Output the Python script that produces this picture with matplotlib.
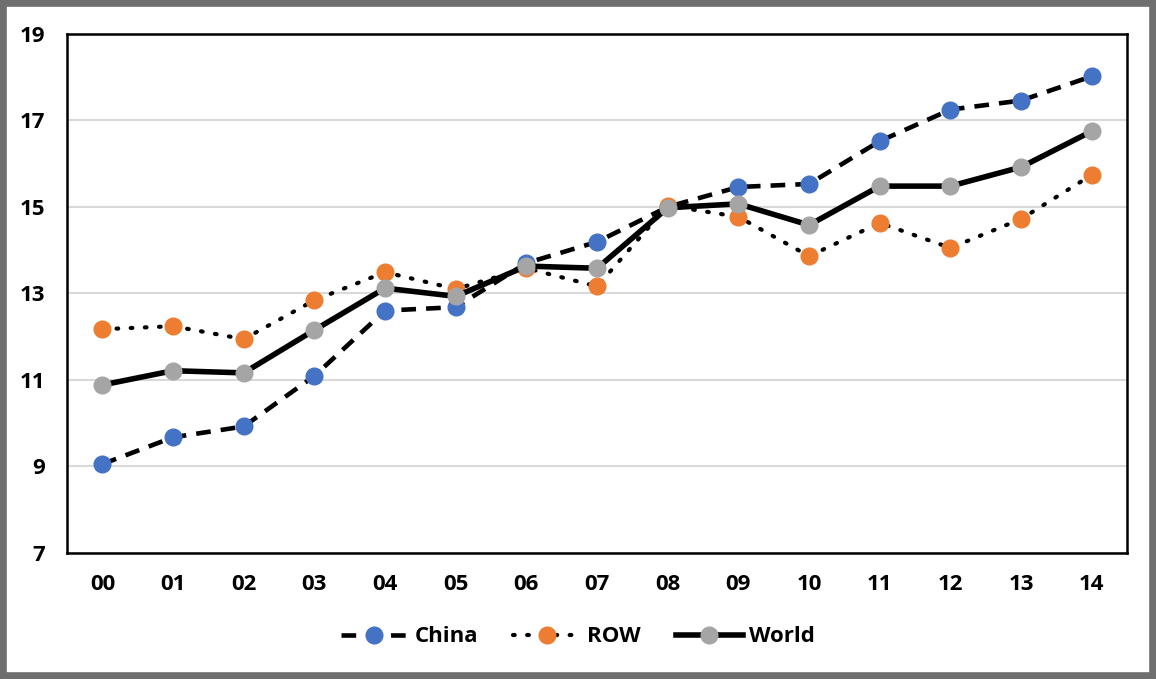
import matplotlib.pyplot as plt
from matplotlib.patches import Rectangle

years = ["00", "01", "02", "03", "04", "05", "06", "07", "08", "09", "10", "11", "12", "13", "14"]
china = [9.05, 9.67, 9.92, 11.09, 12.60, 12.68, 13.70, 14.19, 15.00, 15.46, 15.53, 16.52, 17.25, 17.46, 18.02]
row = [12.17, 12.24, 11.94, 12.84, 13.49, 13.10, 13.58, 13.16, 15.03, 14.77, 13.86, 14.63, 14.05, 14.72, 15.74]
world = [10.88, 11.21, 11.16, 12.15, 13.12, 12.93, 13.63, 13.58, 14.98, 15.07, 14.58, 15.48, 15.48, 15.92, 16.75]

plt.rcParams['font.family'] = ['Open Sans', 'DejaVu Sans']

fig = plt.figure(figsize=(11.56, 6.79), dpi=100)
ax = fig.add_axes([0.058, 0.186, 0.917, 0.764])

x = list(range(len(years)))
ax.plot(x, china, color="black", lw=3.3, dashes=(3.2, 2.2), marker="o", ms=12,
        mfc="#4472C4", mec="#4472C4", label="China", zorder=3)
ax.plot(x, row, color="black", lw=3.0, dashes=(0.4, 3.0), dash_capstyle="round", marker="o", ms=12,
        mfc="#ED7D31", mec="#ED7D31", label="ROW", zorder=3)
ax.plot(x, world, color="black", lw=4.0, marker="o", ms=12,
        mfc="#A5A5A5", mec="#A5A5A5", label="World", zorder=3)

ax.set_xlim(-0.5, 14.5)
ax.set_ylim(7, 19)
ax.set_yticks([7, 9, 11, 13, 15, 17, 19])
ax.set_xticks(x)
ax.set_xticklabels(years)
ax.yaxis.grid(True, color="#D9D9D9", lw=1.5)
ax.set_axisbelow(True)
ax.tick_params(length=0, labelsize=16, pad=15)
ax.tick_params(axis="y", pad=16)
for lab in ax.get_xticklabels() + ax.get_yticklabels():
    lab.set_fontweight("bold")
for s in ax.spines.values():
    s.set_color("black")
    s.set_linewidth(1.8)

fig.legend(loc="center", bbox_to_anchor=(0.5, 0.062), ncol=3, frameon=False,
           handlelength=3.0, columnspacing=1.6, handletextpad=0.3,
           prop={"size": 16, "weight": "bold"})

# grey frame around the whole figure
fig.patches.append(Rectangle((0.003, 0.005), 0.994, 0.99, transform=fig.transFigure,
                             fill=False, ec="#6F6F6F", lw=5.5))

fig.savefig("out.png", dpi=100)
